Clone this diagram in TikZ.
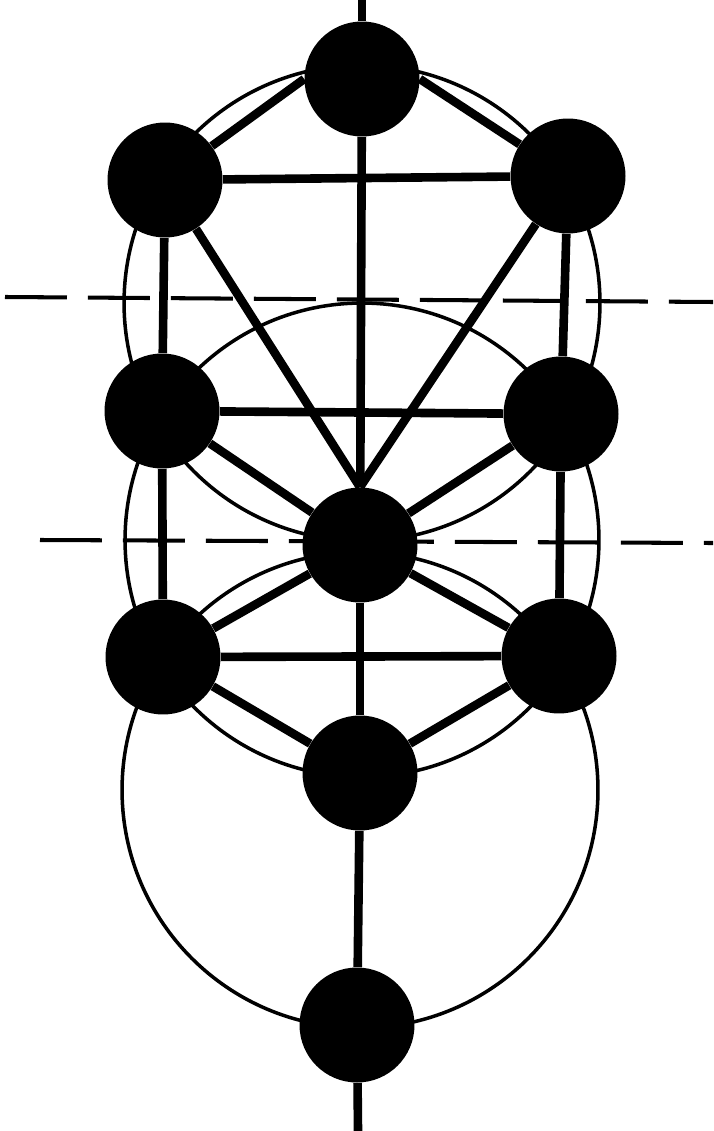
\documentclass[tikz,border=0pt]{standalone}
\usepackage{tikz}
\usetikzlibrary{positioning, calc}

\begin{document}
\begin{tikzpicture}[x=0.02cm, y=-0.02cm,
  sephira/.style={circle, fill=black, minimum size=2.3cm, inner sep=0pt},
  pathline/.style={line width=4.9pt},
  ring/.style={line width=2pt},
  veil/.style={line width=2.3pt, dash pattern=on 1.24cm off 0.42cm}]
\useasboundingbox (0,0) rectangle (713,1131);

% the ten spheres
\node (kether) [sephira] at (362,79) {};
\node (binah) [sephira] at (165,180) {};
\node (chokmah) [sephira] at (568,176) {};
\node (geburah) [sephira] at (162,411) {};
\node (chesed) [sephira] at (561,414) {};
\node (tiphareth) [sephira] at (360,545) {};
\node (hod) [sephira] at (163,657) {};
\node (netzach) [sephira] at (559,656) {};
\node (yesod) [sephira] at (360,773) {};
\node (malkuth) [sephira] at (357,1025) {};

\coordinate (daath) at (362,303);
\coordinate (ringmid) at (362,540);
\coordinate (ringlow) at (360,790);
\coordinate (top) at (362,0);
\coordinate (bottom) at (358,1131);
\coordinate (veilAleft) at (5,297);
\coordinate (veilAright) at (713,302);
\coordinate (veilBleft) at (40,540);
\coordinate (veilBright) at (713,543);

% three circles
\draw [ring] (daath) circle (4.76cm);
\draw [ring] (ringmid) circle (4.74cm);
\draw [ring] (ringlow) circle (4.76cm);

% veils
\draw [veil] (veilAleft) -- (veilAright);
\draw [veil] (veilBleft) -- (veilBright);

% paths
\draw [pathline] (top) -- (kether);
\draw [pathline] (kether) -- (tiphareth);
\draw [pathline] (tiphareth) -- (yesod);
\draw [pathline] (yesod) -- (malkuth);
\draw [pathline] (malkuth) -- (bottom);
\draw [pathline] (kether.west) -- (binah);
\draw [pathline] (kether.east) -- (chokmah);
\draw [pathline] (binah) -- (chokmah);
\draw [pathline] (binah) -- (geburah);
\draw [pathline] (chokmah) -- (chesed);
\draw [pathline] (binah) -- (tiphareth.north);
\draw [pathline] (chokmah) -- (tiphareth.north);
\draw [pathline] (geburah) -- (chesed);
\draw [pathline] (geburah) -- (tiphareth);
\draw [pathline] (chesed) -- (tiphareth);
\draw [pathline] (geburah) -- (hod);
\draw [pathline] (chesed) -- (netzach);
\draw [pathline] (hod) -- (tiphareth);
\draw [pathline] (netzach) -- (tiphareth);
\draw [pathline] (hod) -- (netzach);
\draw [pathline] (hod) -- (yesod);
\draw [pathline] (netzach) -- (yesod);
\end{tikzpicture}
\end{document}
